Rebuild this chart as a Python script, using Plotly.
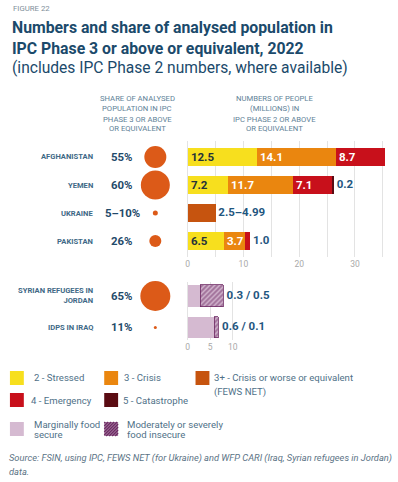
import plotly.graph_objects as go

W, H = 398, 482

# ---------------- data ----------------
top_rows = ["AFGHANISTAN", "YEMEN", "UKRAINE", "PAKISTAN"]
top_share = ["55%", "60%", "5–10%", "26%"]
phase2_stressed = [12.5, 7.2, None, 6.5]
phase3_crisis = [14.1, 11.7, None, 3.7]
phase4_emergency = [8.7, 7.1, None, 1.0]
phase5_catastrophe = [None, 0.2, None, None]
fews_crisis_plus = [None, None, 4.99, None]
fews_range_label = [None, None, "2.5–4.99", None]

bottom_rows = ["SYRIAN REFUGEES IN<br>JORDAN", "IDPS IN IRAQ"]
bottom_share = ["65%", "11%"]
marginally_secure = [0.3, 0.6]
mod_sev_insecure = [0.5, 0.1]

top_tick_step = 10
bottom_tick_vals = [0, 0.5, 1.0]
bottom_tick_text = ["0", "5", "10"]

# ---------------- styles ----------------
FONT = "Roboto, sans-serif"
C_YELLOW = "#f7df1e"
C_ORANGE = "#ea860f"
C_RED = "#c8101b"
C_MAROON = "#5a0b12"
C_FEWS = "#c6540f"
C_BUBBLE = "#dc5a18"
C_LILAC = "#d5bad1"
C_PURPLE = "#6e2a64"
C_TITLE = "#1b4a6b"
C_HEAD = "#5e8197"
C_ROW = "#3e6986"
C_PCT = "#1f4a6a"
C_VAL = "#1f5680"
C_DARKTXT = "#25323a"
C_LEG = "#4f7188"
C_SRC = "#5b7385"
C_GRID = "#e3e3e3"
C_TICK = "#a9a9a9"
bubble_px_top = [22, 29, 5, 12]
bubble_px_bottom = [30, 3]
VAL_SIZE = 11.5


def py(p):
    return 1 - p / H


def px(p):
    return p / W


fig = go.Figure()

# ---------------- stacked IPC bars ----------------
segments = [
    (phase2_stressed, C_YELLOW, C_DARKTXT),
    (phase3_crisis, C_ORANGE, "white"),
    (phase4_emergency, C_RED, "white"),
    (phase5_catastrophe, C_MAROON, "white"),
    (fews_crisis_plus, C_FEWS, "white"),
]
for vals, col, tcol in segments:
    fews = vals is fews_crisis_plus
    texts = ["" if (v is None or v < 2 or fews) else f"{v:.1f}" for v in vals]
    fig.add_trace(go.Bar(
        x=vals, y=top_rows, orientation="h", xaxis="x", yaxis="y",
        width=0.66, marker=dict(color=col, line=dict(width=0)),
        text=texts, textposition="inside", insidetextanchor="start",
        constraintext="none", textangle=0,
        textfont=dict(family=FONT, size=VAL_SIZE, color=tcol, weight="bold"),
        hoverinfo="skip",
    ))

# labels at the end of each stack
out_x, out_t = [], []
for i in range(len(top_rows)):
    parts = [s[0][i] for s in segments if s[0][i] is not None]
    total = sum(parts)
    if fews_range_label[i]:
        lab = fews_range_label[i]
    elif parts and parts[-1] < 2:
        lab = f"{parts[-1]:.1f}"
    else:
        lab = ""
    out_x.append(total)
    out_t.append(" " + lab if lab else "")
fig.add_trace(go.Scatter(
    x=out_x, y=top_rows, xaxis="x", yaxis="y", mode="text",
    text=out_t, textposition="middle right", cliponaxis=False,
    textfont=dict(family=FONT, size=VAL_SIZE, color=C_VAL, weight="bold"),
    hoverinfo="skip",
))

# ---------------- CARI bars ----------------
fig.add_trace(go.Bar(
    x=marginally_secure, y=bottom_rows, orientation="h", xaxis="x2", yaxis="y2",
    width=0.67, marker=dict(color=C_LILAC, line=dict(width=0)), hoverinfo="skip",
))
fig.add_trace(go.Bar(
    x=mod_sev_insecure, y=bottom_rows, orientation="h", xaxis="x2", yaxis="y2",
    width=0.67,
    marker=dict(color=C_LILAC, line=dict(width=0.8, color=C_PURPLE),
                pattern=dict(shape="/", fgcolor=C_PURPLE, bgcolor=C_LILAC,
                             size=3.5, solidity=0.6, fillmode="overlay")),
    hoverinfo="skip",
))
fig.add_trace(go.Scatter(
    x=[m + s for m, s in zip(marginally_secure, mod_sev_insecure)], y=bottom_rows,
    xaxis="x2", yaxis="y2", mode="text",
    text=[f" {m:.1f} / {s:.1f}" for m, s in zip(marginally_secure, mod_sev_insecure)],
    textposition="middle right", cliponaxis=False,
    textfont=dict(family=FONT, size=VAL_SIZE, color=C_VAL, weight="bold"),
    hoverinfo="skip",
))

# ---------------- share bubbles ----------------
fig.add_trace(go.Scatter(
    x=[0.5] * len(top_rows), y=top_rows, xaxis="x3", yaxis="y", mode="markers",
    marker=dict(size=bubble_px_top, color=C_BUBBLE, opacity=1, line=dict(width=0)),
    cliponaxis=False, hoverinfo="skip",
))
fig.add_trace(go.Scatter(
    x=[0.5] * len(bottom_rows), y=bottom_rows, xaxis="x3", yaxis="y2", mode="markers",
    marker=dict(size=bubble_px_bottom, color=C_BUBBLE, opacity=1, line=dict(width=0)),
    cliponaxis=False, hoverinfo="skip",
))

# ---------------- text helpers ----------------
ann = []
shapes = []


def txt(x, y, s, size, color, bold=False, italic=False, xanchor="left",
        yref="paper", align="left"):
    f = dict(family=FONT, size=size, color=color)
    if bold:
        f["weight"] = "bold"
    if italic:
        f["style"] = "italic"
    ann.append(dict(x=px(x), y=(py(y) if yref == "paper" else y), xref="paper",
                    yref=yref, text=s, showarrow=False, xanchor=xanchor,
                    yanchor="middle", align=align, font=f))


# title block
txt(10, 8, "FIGURE 22", 7.8, "#7f8f9a")
txt(9, 27, "Numbers and share of analysed population in", 15.8, C_TITLE, bold=True)
txt(9, 48.5, "IPC Phase 3 or above or equivalent, 2022", 15.8, C_TITLE, bold=True)
txt(9, 68.5, "(includes IPC Phase 2 numbers, where available)", 15.6, C_TITLE)

# column headers
head1 = ["SHARE OF ANALYSED", "POPULATION IN IPC", "PHASE 3 OR ABOVE", "OR EQUIVALENT"]
head2 = ["NUMBERS OF PEOPLE", "(MILLIONS) IN", "IPC PHASE 2 OR ABOVE", "OR EQUIVALENT"]
for k, (a, b) in enumerate(zip(head1, head2)):
    txt(137.5, 99 + 10 * k, a, 7.7, C_HEAD, xanchor="center")
    txt(275.5, 99 + 10 * k, b, 7.7, C_HEAD, xanchor="center")

# row labels and share values
for name, share in zip(top_rows, top_share):
    txt(95, name, name, 7.6, C_ROW, bold=True, xanchor="right", yref="y", align="right")
    txt(122, name, share, 11.4, C_PCT, bold=True, xanchor="center", yref="y")
for name, share in zip(bottom_rows, bottom_share):
    ann.append(dict(x=px(95), y=name, xref="paper", yref="y2", text=name,
                    showarrow=False, xanchor="right", yanchor="middle", align="right",
                    font=dict(family=FONT, size=7.6, color=C_ROW, weight="bold")))
    ann.append(dict(x=px(122), y=name, xref="paper", yref="y2", text=share,
                    showarrow=False, xanchor="center", yanchor="middle",
                    font=dict(family=FONT, size=11.4, color=C_PCT, weight="bold")))


# ---------------- legend ----------------
def swatch(x0, y0, col, size=14):
    shapes.append(dict(type="rect", xref="paper", yref="paper",
                       x0=px(x0), x1=px(x0 + size), y0=py(y0 + size), y1=py(y0),
                       fillcolor=col, line=dict(width=0)))


LEG_SIZE = 9.6
swatch(9, 371, C_YELLOW)
txt(31, 377.5, "2 - Stressed", LEG_SIZE, C_LEG)
swatch(104, 371, C_ORANGE)
txt(122, 377.5, "3 - Crisis", LEG_SIZE, C_LEG)
swatch(196, 371, C_FEWS)
txt(213, 377.5, "3+ - Crisis or worse or equivalent", LEG_SIZE, C_LEG)
txt(213, 391.5, "(FEWS NET)", LEG_SIZE, C_LEG)
swatch(9, 393, C_RED)
txt(28, 400, "4 - Emergency", LEG_SIZE, C_LEG)
swatch(104, 393, C_MAROON)
txt(121, 400, "5 - Catastrophe", LEG_SIZE, C_LEG)
swatch(9, 422, C_LILAC)
txt(31, 424.5, "Marginally food", LEG_SIZE, C_LEG)
txt(31, 434.5, "secure", LEG_SIZE, C_LEG)
# hatched swatch: purple square crossed by diagonal strokes
hx, hy, hs = 104, 422, 14
swatch(hx, hy, "#a57d9f")
for k in range(-hs + 1, hs, 3):
    x_start = hx + max(k, 0)
    y_start = hy + hs - max(-k, 0)
    length = hs - abs(k)
    shapes.append(dict(type="line", xref="paper", yref="paper",
                       x0=px(x_start), y0=py(y_start),
                       x1=px(x_start + length), y1=py(y_start - length),
                       line=dict(color=C_PURPLE, width=1.2)))
txt(125, 424.5, "Moderately or severely", LEG_SIZE, C_LEG)
txt(125, 434.5, "food insecure", LEG_SIZE, C_LEG)

# source
txt(6, 457.5, "Source: FSIN, using IPC, FEWS NET (for Ukraine) and WFP CARI (Iraq, Syrian refugees in Jordan)",
    9.3, C_SRC, italic=True)
txt(6, 471, "data.", 9.3, C_SRC, italic=True)

# ---------------- axes ----------------
top_ppu = 5.623
bot_ppu = 45.5
grid = dict(showgrid=True, gridcolor=C_GRID, gridwidth=1, zeroline=False,
            showline=False, ticks="", fixedrange=True,
            tickfont=dict(family=FONT, size=8.5, color=C_TICK))

fig.update_layout(
    width=W, height=H, margin=dict(l=0, r=0, t=0, b=0),
    paper_bgcolor="white", plot_bgcolor="rgba(0,0,0,0)",
    barmode="stack", showlegend=False, bargap=0,
    xaxis=dict(domain=[px(188 - 0.3 * top_ppu), px(388)], range=[-0.3, 200 / top_ppu],
               anchor="y", tickmode="linear", tick0=0, dtick=top_tick_step,
               minor=dict(dtick=top_tick_step / 2, tick0=0, showgrid=True,
                          gridcolor=C_GRID, gridwidth=1),
               **grid),
    xaxis2=dict(domain=[px(188 - 0.04 * bot_ppu), px(188 + 1.06 * bot_ppu)],
                range=[-0.04, 1.06], anchor="y2", tickmode="array",
                tickvals=bottom_tick_vals, ticktext=bottom_tick_text, **grid),
    xaxis3=dict(domain=[px(140), px(171)], range=[0, 1], anchor="y", visible=False,
                fixedrange=True),
    yaxis=dict(domain=[py(257), py(141)], range=[3.571, -0.571], type="category",
               categoryorder="array", categoryarray=top_rows, showticklabels=False,
               showgrid=False, zeroline=False, ticks="", fixedrange=True),
    yaxis2=dict(domain=[py(340), py(282)], range=[1.397, -0.444], type="category",
                categoryorder="array", categoryarray=bottom_rows, showticklabels=False,
                showgrid=False, zeroline=False, ticks="", fixedrange=True),
    annotations=ann, shapes=shapes,
)

fig.write_html("out.html", config={"displayModeBar": False})
